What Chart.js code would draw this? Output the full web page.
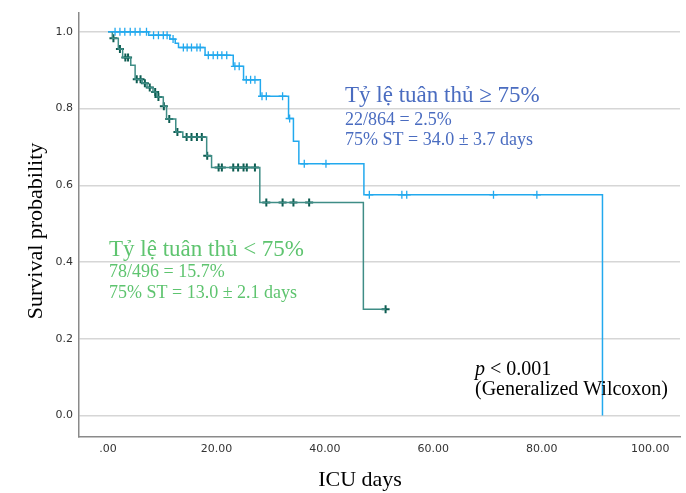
<!DOCTYPE html>
<html>
<head>
<meta charset="utf-8">
<script src="https://cdn.jsdelivr.net/npm/chart.js@4/dist/chart.umd.min.js"></script>
<style>
  body { margin: 0; background: #fff; }
  canvas { display: block; }
</style>
</head>
<body>
<canvas id="kmChart" width="686" height="493"></canvas>
<script>
// ty le tuan thu >= 75% (light blue)
var hiTimes = [0, 7.5, 11.4, 12.4, 13.0, 17.9, 23.1, 25.0, 28.1, 33.3, 34.2, 35.2, 47.2, 91.2];
var hiSurv = [1.0, 0.991, 0.981, 0.970, 0.959, 0.939, 0.910, 0.875, 0.832, 0.774, 0.715, 0.656, 0.575, 0.0];
var hiCensor = [1.3, 2.2, 3.1, 4.1, 5.0, 5.9, 7.1, 8.4, 9.3, 10.2, 10.9, 12.0, 13.9, 14.6, 15.4, 16.4, 17.0,
  18.5, 19.4, 20.2, 21.0, 21.9, 23.4, 24.2, 25.5, 26.3, 27.1, 28.4, 29.2, 32.2, 33.5, 36.2, 40.2,
  48.2, 54.2, 55.1, 71.1, 79.1];

// ty le tuan thu < 75% (dark teal)
var loTimes = [0, 0.8, 1.9, 2.7, 4.2, 5.0, 6.3, 7.2, 8.3, 9.0, 10.2, 10.8, 12.5, 13.8, 18.2, 19.1, 28.0, 47.1];
var loSurv = [1.0, 0.983, 0.955, 0.933, 0.913, 0.876, 0.866, 0.855, 0.843, 0.830, 0.806, 0.773, 0.739, 0.726, 0.677, 0.646, 0.555, 0.277];
var loCensor = [1.0, 2.2, 3.2, 3.7, 5.3, 6.0, 6.8, 7.7, 8.7, 9.3, 10.3, 11.3, 12.8, 14.5, 15.4, 16.4, 17.3,
  18.3, 20.4, 21.0, 23.1, 24.0, 25.0, 25.6, 27.1, 29.2, 32.2, 34.2, 37.1, 51.2];

var xTicks = [0, 20, 40, 60, 80, 100];
var yTicks = [0, 0.2, 0.4, 0.6, 0.8, 1.0];

function survAt(times, surv, t) {
  var s = surv[0];
  for (var i = 0; i < times.length; i++) {
    if (times[i] <= t) s = surv[i];
  }
  return s;
}

function stepPoints(times, surv, censor) {
  var pts = times.map(function (t, i) { return { x: t, y: surv[i] }; });
  var lastC = censor[censor.length - 1];
  if (lastC > times[times.length - 1]) pts.push({ x: lastC, y: surv[surv.length - 1] });
  return pts;
}

function censorPoints(times, surv, censor) {
  return censor.map(function (t) { return { x: t, y: survAt(times, surv, t) }; });
}

var hiColor = '#22a9ee';
var loLine = '#3f8d86';
var loMark = '#0c5c51';

// text on the plot
var notes = {
  id: 'notes',
  afterDraw: function (chart) {
    var c = chart.ctx;
    c.save();
    c.textBaseline = 'alphabetic';
    c.textAlign = 'left';

    c.fillStyle = '#4a6cc0';
    c.font = '23px "Liberation Serif"';
    c.fillText('Tỷ lệ tuân thủ ≥ 75%', 345, 102);
    c.font = '18px "Liberation Serif"';
    c.fillText('22/864 = 2.5%', 345, 125);
    c.fillText('75% ST = 34.0 ± 3.7 days', 345, 145);

    c.fillStyle = '#5ec46f';
    c.font = '23px "Liberation Serif"';
    c.fillText('Tỷ lệ tuân thủ < 75%', 109, 256);
    c.font = '18px "Liberation Serif"';
    c.fillText('78/496 = 15.7%', 109, 277);
    c.fillText('75% ST = 13.0 ± 2.1 days', 109, 298);

    c.fillStyle = '#000';
    c.font = 'italic 20px "Liberation Serif"';
    c.fillText('p', 475, 375);
    var pw = c.measureText('p').width;
    c.font = '20px "Liberation Serif"';
    c.fillText(' < 0.001', 475 + pw, 375);
    c.fillText('(Generalized Wilcoxon)', 475, 395);

    c.font = '22px "Liberation Serif"';
    c.textAlign = 'center';
    c.textBaseline = 'middle';
    c.fillText('ICU days', 360, 480);
    c.translate(36, 231);
    c.rotate(-Math.PI / 2);
    c.fillText('Survival probability', 0, 0);
    c.restore();
  }
};

var ctx = document.getElementById('kmChart').getContext('2d');
var kmChart = new Chart(ctx, {
  type: 'scatter',
  data: {
    datasets: [{
      label: 'Tỷ lệ tuân thủ ≥ 75%',
      data: stepPoints(hiTimes, hiSurv, hiCensor),
      showLine: true,
      stepped: true,
      borderColor: hiColor,
      borderWidth: 1.5,
      pointRadius: 0
    }, {
      label: 'Tỷ lệ tuân thủ < 75%',
      data: stepPoints(loTimes, loSurv, loCensor),
      showLine: true,
      stepped: true,
      borderColor: loLine,
      borderWidth: 1.5,
      pointRadius: 0
    }, {
      label: 'censored ≥ 75%',
      data: censorPoints(hiTimes, hiSurv, hiCensor),
      pointStyle: 'cross',
      pointRadius: 4,
      borderColor: hiColor,
      borderWidth: 1.3
    }, {
      label: 'censored < 75%',
      data: censorPoints(loTimes, loSurv, loCensor),
      pointStyle: 'cross',
      pointRadius: 4,
      borderColor: loMark,
      borderWidth: 2
    }]
  },
  options: {
    responsive: false,
    animation: false,
    layout: {
      padding: { top: 10, right: 6, left: 0, bottom: 0 }
    },
    plugins: {
      legend: { display: false },
      tooltip: { enabled: false }
    },
    scales: {
      x: {
        type: 'linear',
        min: -5.35,
        max: 105.5,
        afterBuildTicks: function (s) { s.ticks = xTicks.map(function (v) { return { value: v }; }); },
        afterFit: function (s) { s.height = 56; },
        ticks: {
          padding: 6,
          color: '#333',
          font: { family: 'DejaVu Sans', size: 11 },
          callback: function (v) { return v === 0 ? '.00' : v.toFixed(2); }
        },
        grid: { display: false, drawTicks: false },
        border: { display: true, color: '#8a8a8a', width: 1.5 }
      },
      y: {
        type: 'linear',
        min: -0.056,
        max: 1.05,
        afterBuildTicks: function (s) { s.ticks = yTicks.map(function (v) { return { value: v }; }); },
        afterFit: function (s) { s.width = 79; },
        ticks: {
          padding: 6,
          color: '#333',
          font: { family: 'DejaVu Sans', size: 11 },
          callback: function (v) { return v.toFixed(1); }
        },
        grid: {
          color: '#d6d6d6',
          lineWidth: 1.5,
          drawTicks: false
        },
        border: { display: true, color: '#8a8a8a', width: 1.5 }
      }
    }
  },
  plugins: [notes]
});
</script>
</body>
</html>
